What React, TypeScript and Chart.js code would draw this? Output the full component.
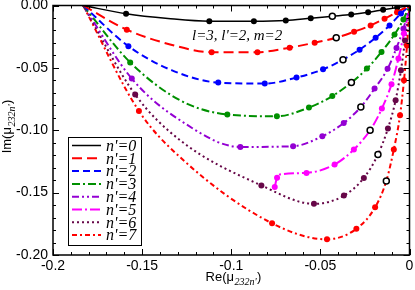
import React, { useEffect, useRef } from "react";
import { Chart, registerables } from "chart.js";
Chart.register(...registerables);

// ---------------- data ----------------
const SERIES_LABELS = ["n'=0", "n'=1", "n'=2", "n'=3", "n'=4", "n'=5", "n'=6", "n'=7"];

const X_TICKS = [-0.2, -0.15, -0.1, -0.05, 0];
const X_TICK_LABELS = ["-0.2", "-0.15", "-0.1", "-0.05", "0"];
const Y_TICKS = [-0.2, -0.15, -0.1, -0.05, 0];
const Y_TICK_LABELS = ["-0.20", "-0.15", "-0.10", "-0.05", "0.00"];

// curve samples [Re, Im]
const LINE_0 = [[-0.1831, 0], [-0.159, -0.0066], [-0.1355, -0.0104], [-0.1123, -0.0126], [-0.0873, -0.0126], [-0.0694, -0.012], [-0.0554, -0.0102], [-0.0433, -0.0086], [-0.0327, -0.0072], [-0.0232, -0.0054], [-0.0148, -0.0034], [-0.0069, -0.0016], [0, 0]];
const LINE_1 = [[-0.1831, 0], [-0.1586, -0.0194], [-0.1343, -0.0312], [-0.111, -0.0374], [-0.0853, -0.0374], [-0.0672, -0.0338], [-0.0532, -0.0298], [-0.0411, -0.0258], [-0.0311, -0.021], [-0.0218, -0.016], [-0.014, -0.0106], [-0.007, -0.0054], [0, 0]];
const LINE_2 = [[-0.1831, 0], [-0.1577, -0.0326], [-0.1332, -0.052], [-0.1073, -0.0618], [-0.0812, -0.0626], [-0.0634, -0.0578], [-0.0485, -0.0512], [-0.0373, -0.0434], [-0.028, -0.0354], [-0.019, -0.0258], [-0.0112, -0.016], [-0.0048, -0.0064], [0, 0]];
const LINE_3 = [[-0.1831, 0], [-0.1567, -0.0456], [-0.1287, -0.076], [-0.1022, -0.0874], [-0.0744, -0.0888], [-0.0564, -0.0818], [-0.0433, -0.0726], [-0.0326, -0.0618], [-0.0239, -0.0506], [-0.0157, -0.0372], [-0.0084, -0.0232], [-0.0034, -0.0112], [0, 0]];
const LINE_4 = [[-0.1831, 0], [-0.1558, -0.0586], [-0.1287, -0.092], [-0.0949, -0.1134], [-0.0653, -0.1128], [-0.0489, -0.1048], [-0.0369, -0.0942], [-0.0273, -0.0814], [-0.0196, -0.0666], [-0.0123, -0.0508], [-0.0073, -0.034], [-0.0034, -0.0186], [0, 0]];
const LINE_5 = [[-0.0756, -0.1454], [-0.0743, -0.138], [-0.0717, -0.1352], [-0.0578, -0.1342], [-0.042, -0.1274], [-0.0312, -0.1154], [-0.0221, -0.1], [-0.0155, -0.0826], [-0.0101, -0.0632], [-0.0062, -0.0424], [-0.0031, -0.0224], [0, 0]];
const LINE_6 = [[-0.1831, 0], [-0.1539, -0.0714], [-0.1287, -0.108], [-0.0831, -0.1442], [-0.0536, -0.159], [-0.0368, -0.1524], [-0.0256, -0.1382], [-0.0177, -0.1194], [-0.0121, -0.0986], [-0.0078, -0.076], [-0.0048, -0.052], [-0.0025, -0.028], [0, 0]];
const LINE_7 = [[-0.1831, 0], [-0.1518, -0.0846], [-0.1287, -0.1216], [-0.0771, -0.1746], [-0.0463, -0.1874], [-0.0298, -0.179], [-0.0193, -0.1618], [-0.013, -0.1406], [-0.0088, -0.1154], [-0.0053, -0.088], [-0.0031, -0.06], [-0.0014, -0.032], [0, 0]];

// filled sample markers
const DOTS_0 = [[-0.159, -0.0066], [-0.1123, -0.0126], [-0.0873, -0.0126], [-0.0694, -0.012], [-0.0554, -0.0102], [-0.0327, -0.0072], [-0.0232, -0.0054], [-0.0148, -0.0034], [-0.0069, -0.0016], [0, 0]];
const DOTS_1 = [[-0.1586, -0.0194], [-0.111, -0.0374], [-0.0853, -0.0374], [-0.0672, -0.0338], [-0.0532, -0.0298], [-0.0311, -0.021], [-0.0218, -0.016], [-0.014, -0.0106], [-0.007, -0.0054], [0, 0]];
const DOTS_2 = [[-0.1577, -0.0326], [-0.1073, -0.0618], [-0.0812, -0.0626], [-0.0634, -0.0578], [-0.0485, -0.0512], [-0.028, -0.0354], [-0.019, -0.0258], [-0.0112, -0.016], [-0.0048, -0.0064], [0, 0]];
const DOTS_3 = [[-0.1567, -0.0456], [-0.1022, -0.0874], [-0.0744, -0.0888], [-0.0564, -0.0818], [-0.0433, -0.0726], [-0.0239, -0.0506], [-0.0157, -0.0372], [-0.0084, -0.0232], [-0.0034, -0.0112], [0, 0]];
const DOTS_4 = [[-0.1558, -0.0586], [-0.0949, -0.1134], [-0.0653, -0.1128], [-0.0489, -0.1048], [-0.0369, -0.0942], [-0.0196, -0.0666], [-0.0123, -0.0508], [-0.0073, -0.034], [-0.0034, -0.0186], [0, 0]];
const DOTS_5 = [[-0.0756, -0.1454], [-0.0743, -0.138], [-0.0578, -0.1342], [-0.042, -0.1274], [-0.0312, -0.1154], [-0.0155, -0.0826], [-0.0101, -0.0632], [-0.0062, -0.0424], [-0.0031, -0.0224], [0, 0]];
const DOTS_6 = [[-0.1539, -0.0714], [-0.0831, -0.1442], [-0.0536, -0.159], [-0.0368, -0.1524], [-0.0256, -0.1382], [-0.0121, -0.0986], [-0.0078, -0.076], [-0.0048, -0.052], [-0.0025, -0.028], [0, 0]];
const DOTS_7 = [[-0.1518, -0.0846], [-0.0771, -0.1746], [-0.0463, -0.1874], [-0.0298, -0.179], [-0.0193, -0.1618], [-0.0088, -0.1154], [-0.0053, -0.088], [-0.0031, -0.06], [-0.0014, -0.032], [0, 0]];

// open (hollow) markers, one per curve
const OPEN_RE = [-0.0433, -0.0411, -0.0373, -0.0326, -0.0273, -0.0221, -0.0177, -0.013];
const OPEN_IM = [-0.0086, -0.0258, -0.0434, -0.0618, -0.0814, -0.1, -0.1194, -0.1406];

const ANNOTATION = "l=3, l'=2, m=2";

// ---------------- styles ----------------
const LINES = [LINE_0, LINE_1, LINE_2, LINE_3, LINE_4, LINE_5, LINE_6, LINE_7];
const DOTS = [DOTS_0, DOTS_1, DOTS_2, DOTS_3, DOTS_4, DOTS_5, DOTS_6, DOTS_7];
const COLORS = ["#000000", "#ff0000", "#0000ff", "#009000", "#9400d3", "#ff00ff", "#670748", "#ff0000"];
const DASHES: number[][] = [[], [10, 5], [7, 4], [8, 3, 2, 3], [7, 3, 2, 3, 2, 3], [10, 3, 2, 3], [2, 3], [5, 3, 2, 3]];

const SANS = "'Liberation Sans', Arial, Helvetica, sans-serif";
const SERIF = "'Liberation Serif', 'Times New Roman', serif";

const toXY = (arr: number[][]) => arr.map(([x, y]) => ({ x, y }));

const decorPlugin = {
  id: "decor",
  afterDatasetsDraw(chart: any) {
    const { ctx, chartArea: a, scales } = chart;
    const xs = scales.x;
    const ys = scales.y;
    ctx.save();
    ctx.strokeStyle = "#000";
    ctx.lineWidth = 1;
    ctx.setLineDash([]);
    const seg = (x1: number, y1: number, x2: number, y2: number) => {
      ctx.beginPath();
      ctx.moveTo(x1, y1);
      ctx.lineTo(x2, y2);
      ctx.stroke();
    };
    // minor every 0.01, major every 0.05 (inward, mirrored)
    for (let i = 0; i <= 20; i++) {
      const v = -0.2 + i * 0.01;
      const px = Math.round(xs.getPixelForValue(v)) + 0.5;
      const len = i % 5 === 0 ? 6 : 3;
      seg(px, a.bottom, px, a.bottom - len);
      seg(px, a.top, px, a.top + len);
      const py = Math.round(ys.getPixelForValue(v)) + 0.5;
      seg(a.left, py, a.left + len, py);
      seg(a.right, py, a.right - len, py);
    }
    ctx.lineWidth = 1.5;
    ctx.strokeRect(a.left, a.top, a.right - a.left, a.bottom - a.top);

    // annotation
    ctx.fillStyle = "#000";
    ctx.font = `italic 15px ${SERIF}`;
    ctx.textAlign = "left";
    ctx.textBaseline = "alphabetic";
    ctx.fillText(ANNOTATION, 192, 40);

    // legend
    const bx = 68, by = 137, bw = 73, bh = 108;
    ctx.fillStyle = "#fff";
    ctx.fillRect(bx, by, bw, bh);
    ctx.lineWidth = 1;
    ctx.strokeStyle = "#000";
    ctx.strokeRect(bx + 0.5, by + 0.5, bw, bh);
    for (let i = 0; i < SERIES_LABELS.length; i++) {
      const ry = by + 8.5 + i * 12.8;
      ctx.strokeStyle = COLORS[i];
      ctx.lineWidth = i === 0 ? 1.5 : 2;
      ctx.setLineDash(DASHES[i]);
      seg(72, ry, 101, ry);
      ctx.setLineDash([]);
      ctx.fillStyle = "#000";
      ctx.font = `italic 16px ${SERIF}`;
      ctx.textBaseline = "middle";
      ctx.fillText(SERIES_LABELS[i], 106, ry + 1);
    }

    // axis titles
    const measure = (pre: string, cx: number) => {
      const mainF = `13px ${SANS}`;
      const subF = `italic 10px ${SERIF}`;
      ctx.font = mainF;
      const w1 = ctx.measureText(pre).width;
      const w3 = ctx.measureText(")").width;
      ctx.font = subF;
      const w2 = ctx.measureText("232n'").width;
      const x = cx - (w1 + w2 + w3) / 2;
      return { mainF, subF, w1, w2, x };
    };
    const drawTitle = (pre: string, cx: number, base: number) => {
      ctx.textBaseline = "alphabetic";
      ctx.textAlign = "left";
      ctx.fillStyle = "#000";
      const t = measure(pre, cx);
      ctx.font = t.mainF;
      ctx.fillText(pre, t.x, base);
      ctx.font = t.subF;
      ctx.fillText("232n'", t.x + t.w1 + 0.5, base + 4);
      ctx.font = t.mainF;
      ctx.fillText(")", t.x + t.w1 + t.w2 + 1, base);
    };
    drawTitle("Re(\u03bc", 233, 281);
    ctx.save();
    ctx.translate(11, 127);
    ctx.rotate(-Math.PI / 2);
    drawTitle("Im(\u03bc", 0, 0);
    ctx.restore();

    ctx.restore();
  },
};

export default function App() {
  const ref = useRef<HTMLCanvasElement | null>(null);
  useEffect(() => {
    document.body.style.margin = "0";
    const datasets: any[] = [];
    LINES.forEach((ln, i) => {
      datasets.push({
        label: SERIES_LABELS[i],
        data: toXY(ln),
        showLine: true,
        borderColor: COLORS[i],
        borderWidth: i === 0 ? 1.5 : 2,
        borderDash: DASHES[i],
        pointRadius: 0,
        cubicInterpolationMode: "monotone",
        fill: false,
        order: 20,
      });
    });
    DOTS.forEach((d, i) => {
      datasets.push({
        label: SERIES_LABELS[i] + " pts",
        data: toXY(d),
        showLine: false,
        pointRadius: 3,
        pointBorderWidth: 0,
        pointBackgroundColor: COLORS[i],
        pointBorderColor: COLORS[i],
        order: 10 - i,
      });
    });
    datasets.push({
      label: "open",
      data: OPEN_RE.map((x, i) => ({ x, y: OPEN_IM[i] })),
      showLine: false,
      pointRadius: 3,
      pointBorderWidth: 1.5,
      pointBackgroundColor: "#fff",
      pointBorderColor: "#000",
      order: 0,
    });

    const chart = new Chart(ref.current!, {
      type: "scatter",
      data: { datasets },
      plugins: [decorPlugin],
      options: {
        animation: false,
        responsive: false,
        maintainAspectRatio: false,
        layout: { padding: { top: 5, right: 5, left: 0, bottom: 0 } },
        plugins: { legend: { display: false }, tooltip: { enabled: false } },
        scales: {
          x: {
            type: "linear",
            min: -0.2,
            max: 0,
            grid: { display: false, drawTicks: false },
            border: { display: false },
            afterBuildTicks: (s: any) => {
              s.ticks = X_TICKS.map((v) => ({ value: v }));
            },
            afterFit: (s: any) => {
              s.height = 35;
              s.paddingLeft = 0;
              s.paddingRight = 0;
            },
            ticks: {
              autoSkip: false,
              maxRotation: 0,
              padding: 3,
              color: "#000",
              font: { family: SANS, size: 14 },
              callback: (v: any, i: number) => X_TICK_LABELS[i],
            },
          },
          y: {
            type: "linear",
            min: -0.2,
            max: 0,
            grid: { display: false, drawTicks: false },
            border: { display: false },
            afterBuildTicks: (s: any) => {
              s.ticks = Y_TICKS.map((v) => ({ value: v }));
            },
            afterFit: (s: any) => {
              s.width = 53;
              s.paddingTop = 0;
              s.paddingBottom = 0;
            },
            ticks: {
              autoSkip: false,
              padding: 5,
              color: "#000",
              font: { family: SANS, size: 14 },
              callback: (v: any, i: number) => Y_TICK_LABELS[i],
            },
          },
        },
      } as any,
    });
    return () => chart.destroy();
  }, []);
  return (
    <div style={{ width: 415, height: 290 }}>
      <canvas ref={ref} width={415} height={290} style={{ display: "block" }} />
    </div>
  );
}
